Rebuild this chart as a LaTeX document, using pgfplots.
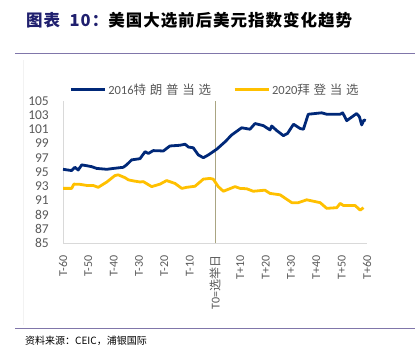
\documentclass[border=0pt]{standalone}
\usepackage{pgfplots}
\pgfplotsset{compat=1.18}
\usepackage{fontspec}
\setmainfont{Carlito}
\newfontfamily\cjk{Noto Sans CJK SC}
\newfontfamily\cjkt[LetterSpace=6]{Noto Sans CJK SC}
\newfontfamily\cjkl[LetterSpace=30]{Noto Sans CJK SC}
\newfontfamily\carl{Carlito}
\definecolor{navy}{RGB}{0,40,120}
\definecolor{gold}{RGB}{255,192,0}
\definecolor{titleblue}{RGB}{31,31,110}
\definecolor{rule}{RGB}{128,118,170}
\definecolor{txt}{RGB}{89,89,89}
\definecolor{vline}{RGB}{170,165,130}
\begin{document}
\begin{tikzpicture}
\path[use as bounding box] (0,0) rectangle (420bp,360bp);
\draw[gray!10] (23bp,300bp) -- (23bp,35bp);
\node[anchor=west,inner sep=0pt] at (26bp,340bp) {\fontsize{16.5bp}{18bp}\selectfont\cjkt\bfseries{\color{titleblue}图表\ \ 10：}美国大选前后美元指数变化趋势};
\draw[rule,line width=1bp] (15bp,306bp) -- (415bp,306bp);
\draw[rule,line width=1bp] (15bp,31bp) -- (415bp,31bp);
\node[anchor=west,inner sep=0pt] at (25bp,19bp) {\fontsize{10bp}{11bp}\selectfont\cjk 资料来源：CEIC，浦银国际};
\begin{axis}[
  at={(63bp,116.7bp)}, anchor=south west,
  scale only axis, width=304bp, height=142.6bp,
  xmin=-60, xmax=60, ymin=85, ymax=105,
  axis lines=left,
  axis line style={-, draw=gray!30, line width=0.8bp},
  major tick length=0pt,
  ytick={85,87,...,105},
  xtick={-60,-50,...,60},
  xticklabels={T-60,T-50,T-40,T-30,T-20,T-10,{T0={\cjk 选举日}},T+10,T+20,T+30,T+40,T+50,T+60},
  xticklabel style={rotate=90, anchor=east, font=\carl\fontsize{12bp}{14bp}\selectfont, text=txt, inner sep=0pt},
  yticklabel style={font=\carl\fontsize{13.5bp}{15bp}\selectfont, text=txt, inner sep=0pt, anchor=east},
  /pgf/number format/assume math mode=true,
  xticklabel shift=12bp,
  yticklabel shift=14bp,
  legend columns=2,
  legend style={at={(0.5,1.0)}, anchor=south, yshift=1bp, xshift=0bp, draw=none, fill=none,
    font=\carl\fontsize{12.5bp}{14bp}\selectfont, text=txt,
    /tikz/every even column/.append style={column sep=20bp}},
  legend image code/.code={\draw[#1, line width=3bp] (0bp,0bp) -- (34bp,0bp);},
  clip=false,
]
\draw[vline, line width=1bp] (axis cs:0,85) -- (axis cs:0,105);
\addplot[navy, line width=2.8bp, line join=round] coordinates {
(-60,95.38) (-56.6,95.2) (-55.3,95.66) (-54,95.28) (-52.6,96.0) (-50,95.84) (-48.7,95.75)
(-46.7,95.5) (-42.7,95.38) (-40.1,95.5) (-36.2,95.66) (-34.9,96.0) (-32.9,96.7) (-29.6,96.87)
(-27.6,97.85) (-26.3,97.6) (-24.4,98.0) (-20.4,97.95) (-17.8,98.65) (-13.8,98.75) (-11.8,98.9)
(-10.5,98.5) (-8.6,98.4) (-6.6,97.4) (-4.6,97.0) (-2.6,97.4) (0.7,98.2) (4,99.25) (6.6,100.2)
(10.5,101.2) (13.8,101.0) (15.8,101.8) (19.1,101.5) (21.7,100.9) (22.4,101.45) (24.4,100.8)
(27,100.1) (28.6,100.4) (31,101.7) (33.6,101.1) (34.9,101.0) (36.8,103.1) (42.1,103.3)
(44.1,103.1) (49.4,103.1) (50.4,103.3) (52,102.2) (55.9,103.2) (57,102.75) (57.9,101.6)
(58.8,102.3) (59.5,102.2)
};
\addlegendentry{{\carl 2016}{\cjkl 特朗普当选}}
\addplot[gold, line width=2.8bp, line join=round] coordinates {
(-60,92.7) (-56.6,92.7) (-55.7,93.3) (-53.3,93.27) (-50.4,93.1) (-48,93.1) (-46.1,92.85)
(-42.7,93.6) (-39.5,94.5) (-38.2,94.6) (-35.5,94.2) (-34.2,93.9) (-32.2,93.75) (-29.6,93.6)
(-28.3,93.65) (-25,92.95) (-21.7,93.3) (-19.1,93.8) (-15.8,93.4) (-13.1,92.7) (-11.2,92.85)
(-7.9,93.0) (-4.6,94.0) (-2,94.1) (-0.7,94.0) (1.3,92.95) (3.3,92.3) (7.9,92.95) (9.9,92.7)
(12.5,92.65) (15.1,92.3) (19.7,92.45) (21.7,92.0) (25.7,91.8) (30.3,90.7) (32.9,90.7)
(36.2,91.1) (41.5,90.7) (44.1,89.9) (48.1,90.0) (49.4,90.6) (50.7,90.3) (55.3,90.3)
(57.3,89.65) (58.6,90.0)
};
\addlegendentry{{\carl 2020}{\cjkl 拜登当选}}
\end{axis}
\end{tikzpicture}
\end{document}
